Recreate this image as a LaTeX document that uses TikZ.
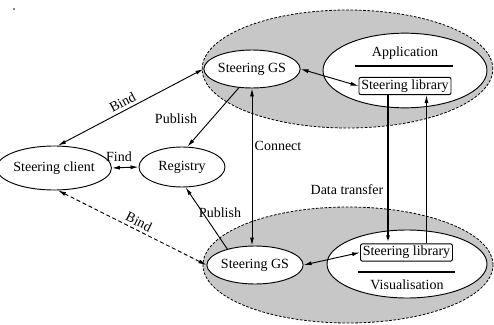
\documentclass[tikz,border=0pt]{standalone}
\usepackage{fontspec}
\setmainfont{Liberation Serif}
\usetikzlibrary{shapes.geometric,arrows.meta,calc}

\begin{document}
\begin{tikzpicture}[x=0.75pt,y=-0.75pt,
  font=\fontsize{10.5}{12}\selectfont,
  tip/.tip={Latex[length=6pt,width=3pt]},
  greydom/.style={ellipse,draw,fill=black!22,inner sep=0pt,
    dash pattern=on 2pt off 1.2pt,line width=0.6pt},
  svc/.style={ellipse,draw,fill=white,inner sep=0pt,line width=0.7pt},
  libbox/.style={draw,fill=white,rounded corners=1.5pt,minimum width=69pt,
    minimum height=13pt,inner sep=1pt,line width=0.7pt},
  linkline/.style={line width=0.7pt},
  lbl/.style={inner sep=1pt},
  slopedlbl/.style={inner sep=2.2pt,sloped,above}]
\useasboundingbox (0,0) rectangle (494,325);

% small speck at the top left corner
\fill (14,9) circle (0.6pt);

% the two grey domains
\node[greydom,minimum width=218pt,minimum height=88.5pt] (tdom) at (347.5,69) {};
\node[greydom,minimum width=217.5pt,minimum height=87pt] (bdom) at (348,265) {};

% application side
\node[svc,minimum width=123pt,minimum height=56pt] (app) at (405,70.5) {};
\node[lbl] (apptxt) at (405,53) {Application};
\draw[line width=0.9pt] (355,66) -- (453,66);
\node[libbox] (tlib) at (405,86) {Steering library};

% visualisation side
\node[svc,minimum width=120pt,minimum height=51pt] (vis) at (407,264) {};
\node[lbl] (vistxt) at (407,285) {Visualisation};
\draw[line width=0.9pt] (358,272) -- (455,272);
\node[libbox] (blib) at (406.5,252.5) {Steering library};

% grid services, client and registry
\node[svc,minimum width=66pt,minimum height=28.5pt] (tgs) at (252,69) {Steering GS};
\node[svc,minimum width=66pt,minimum height=28.5pt] (bgs) at (255,265) {Steering GS};
\node[svc,minimum width=66pt,minimum height=33pt] (client) at (54,168) {Steering client};
\node[svc,minimum width=64.5pt,minimum height=30pt] (reg) at (182,167) {Registry};

% connectors
\draw[linkline,tip-tip] (tgs.east) -- (tlib.west);
\draw[linkline,tip-tip] (bgs.east) -- (blib.west);
\draw[linkline,tip-tip] (tgs.south) -- (tgs.south |- bgs.north);
\draw[linkline,tip-tip] (client.80) -- node[slopedlbl,pos=0.47] (lbind1) {Bind} (tgs.west);
\draw[linkline,tip-tip,dash pattern=on 3pt off 2pt] (client.-80) -- node[slopedlbl,pos=0.52] (lbind2) {Bind} (bgs.west);
\draw[linkline,tip-tip] (client.east) -- (reg.west);
\draw[linkline,-tip] (tgs.-125) -- (reg.75);
\draw[linkline,-tip] (bgs.150) -- (reg.-80);
\draw[line width=1.4pt,-tip] ([xshift=-12.75pt]tlib.south) -- ([xshift=-12.75pt]tlib.south |- blib.north);
\draw[linkline,-tip] ([xshift=15pt]blib.north) -- ([xshift=15pt]blib.north |- tlib.south);

% connector labels
\node[lbl] (lfind) at (119,157) {Find};
\node[lbl] (lpub1) at (176,119) {Publish};
\node[lbl] (lpub2) at (220,213) {Publish};
\node[lbl] (lconn) at (278,146) {Connect};
\node[lbl] (ldata) at (347,190) {Data transfer};
\end{tikzpicture}
\end{document}
